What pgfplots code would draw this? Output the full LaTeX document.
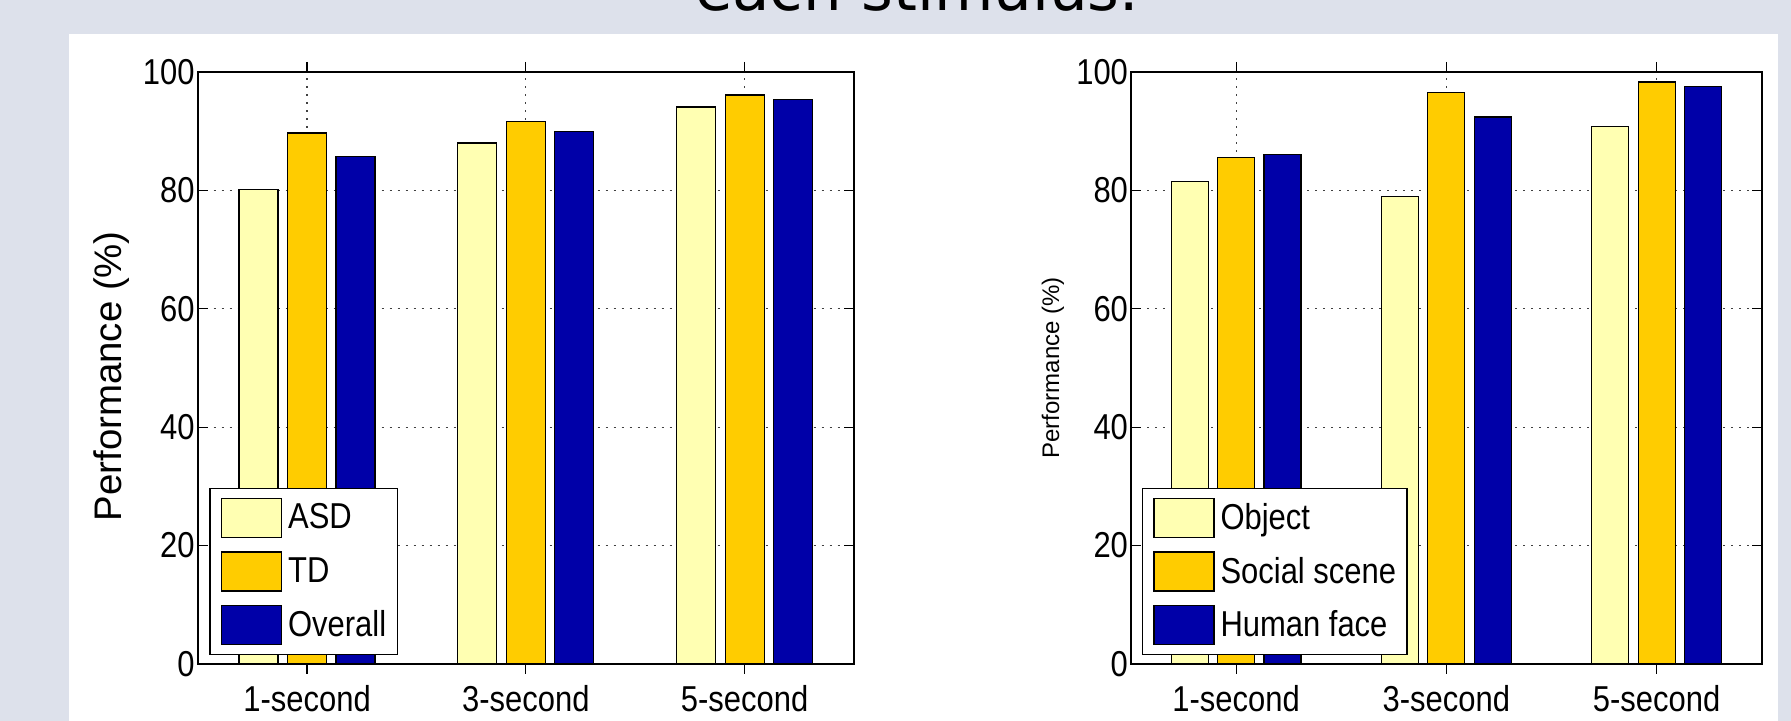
\documentclass[border=0pt]{standalone}
\usepackage{fontspec}
\setmainfont{Liberation Sans}[FakeStretch=0.86]
\newfontfamily\yfont{Liberation Sans}
\newfontfamily\titlefont{DejaVu Sans}
\usepackage{pgfplots}
\pgfplotsset{compat=1.18}
\definecolor{bgc}{RGB}{221,225,235}
\definecolor{pale}{RGB}{255,255,178}
\definecolor{gold}{RGB}{255,204,0}
\definecolor{navy}{RGB}{0,0,168}
\pgfplotsset{
  mybar/.style={
    scale only axis,
    xmin=0.5, xmax=3.5, ymin=0, ymax=100,
    xtick={1,2,3}, xticklabels={1-second,3-second,5-second},
    ytick={0,20,...,100},
    tick align=inside,
    major tick length=5pt,
    tick style={black, line width=0.6pt},
    grid=major,
    major grid style={black!75, line width=0.6pt, dash pattern=on 1pt off 3pt},
    axis line style={black, line width=0.8pt},
    /pgf/number format/assume math mode=true,
    ticklabel style={font=\fontsize{18}{20}\selectfont},
    xticklabel style={yshift=-2pt},
    yticklabel style={xshift=2pt},
    ybar,
    legend cell align=left,
    legend image code/.code={\draw[##1, line width=0.6pt] (0pt,-9.75pt) rectangle (30pt,9.75pt);},
    legend style={anchor=south west, draw=black, line width=0.6pt, fill=white,
      font=\fontsize{18}{20}\selectfont, inner xsep=5.5pt, inner ysep=4.5pt,
      row sep=6.75pt, nodes={inner sep=0pt},
      /tikz/every odd column/.append style={column sep=3pt}},
  },
}
\begin{document}
\begin{tikzpicture}
\useasboundingbox (0,0) rectangle (895.5pt,360.5pt);
\fill[bgc] (0,0) rectangle (895.5pt,360.5pt);
\fill[white] (34.5pt,0) rectangle (889pt,343.5pt);
\begin{scope}
\clip (0,0) rectangle (895.5pt,360.5pt);
\node[anchor=base, inner sep=0pt] at (458.5pt,355pt) {\titlefont\fontsize{30.5}{34}\selectfont each stimulus.};
\end{scope}

\begin{axis}[mybar,
  at={(98.85pt,28.5pt)}, anchor=south west,
  width=328.15pt, height=296pt,
  bar width=19.5pt,
  ylabel={\yfont\fontsize{19.2}{21}\selectfont Performance (\%)},
  ylabel style={at={(axis description cs:-0.1306,0.486)}, anchor=center, rotate=0},
  legend style={at={(axis description cs:0.0177,0.0152)}},
]
\addplot[fill=pale, draw=black, line width=0.6pt, bar shift=-24.25pt] coordinates {(1,80.2) (2,88.0) (3,94.1)};
\addplot[fill=gold, draw=black, line width=0.6pt, bar shift=0pt] coordinates {(1,89.7) (2,91.6) (3,96.1)};
\addplot[fill=navy, draw=black, line width=0.6pt, bar shift=24.25pt] coordinates {(1,85.7) (2,89.9) (3,95.4)};
\legend{ASD,TD,Overall}
\end{axis}

\begin{axis}[mybar,
  at={(565.5pt,28.5pt)}, anchor=south west,
  width=315.35pt, height=296pt,
  bar width=18.5pt,
  ylabel={\yfont\fontsize{12}{14}\selectfont Performance (\%)},
  ylabel style={at={(axis description cs:-0.1237,0.5)}, anchor=center, rotate=0},
  legend style={at={(axis description cs:0.017,0.0152)}},
]
\addplot[fill=pale, draw=black, line width=0.6pt, bar shift=-23.15pt] coordinates {(1,81.5) (2,79.0) (3,90.8)};
\addplot[fill=gold, draw=black, line width=0.6pt, bar shift=0pt] coordinates {(1,85.5) (2,96.6) (3,98.3)};
\addplot[fill=navy, draw=black, line width=0.6pt, bar shift=23.15pt] coordinates {(1,86.0) (2,92.4) (3,97.6)};
\legend{Object,Social scene,Human face}
\end{axis}
\end{tikzpicture}
\end{document}
